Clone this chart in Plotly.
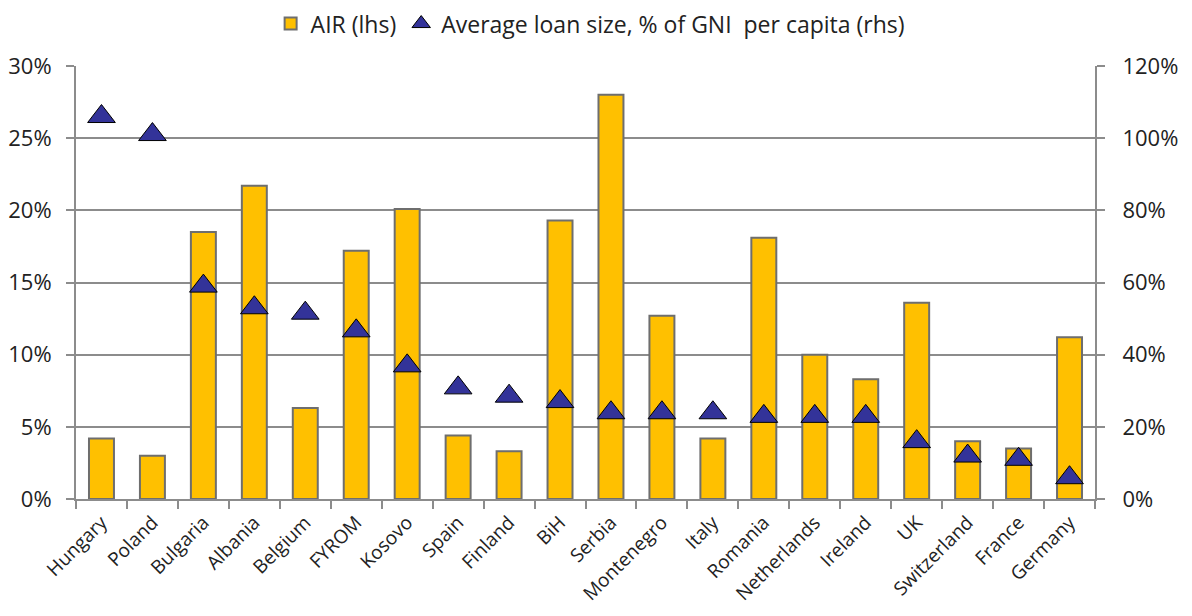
import plotly.graph_objects as go

countries = ["Hungary", "Poland", "Bulgaria", "Albania", "Belgium", "FYROM", "Kosovo",
             "Spain", "Finland", "BiH", "Serbia", "Montenegro", "Italy", "Romania",
             "Netherlands", "Ireland", "UK", "Switzerland", "France", "Germany"]
air_lhs = [4.2, 3.0, 18.5, 21.7, 6.3, 17.2, 20.1, 4.4, 3.3, 19.3, 28.0, 12.7, 4.2, 18.1,
           10.0, 8.3, 13.6, 4.0, 3.5, 11.2]
loan_size_rhs = [106, 101, 59, 53, 51.5, 46.6, 36.9, 30.8, 28.5, 27.0, 23.9, 23.9, 23.9, 22.9,
                 22.9, 22.9, 15.9, 11.9, 11.0, 5.9]
left_ticks = [0, 5, 10, 15, 20, 25, 30]
right_ticks = [0, 20, 40, 60, 80, 100, 120]

FONT = "Open Sans"
GRID = "#8c8c8c"

fig = go.Figure()
fig.add_trace(go.Bar(
    x=countries, y=air_lhs, name="AIR (lhs)",
    marker=dict(color="#FFC000", line=dict(color="#6e6e6e", width=2)),
    yaxis="y",
))
fig.add_trace(go.Scatter(
    x=countries, y=loan_size_rhs, name="Average loan size, % of GNI  per capita (rhs)",
    mode="markers",
    marker=dict(symbol="triangle-up", size=24, color="#333399",
                line=dict(color="#000000", width=1)),
    yaxis="y2", cliponaxis=False,
))

fig.update_layout(
    width=1176, height=600,
    margin=dict(l=68, r=89, t=58, b=109, autoexpand=False),
    paper_bgcolor="white", plot_bgcolor="white",
    font=dict(family=FONT, size=20, color="#222222"),
    bargap=0.51,
    showlegend=True,
    legend=dict(orientation="h", xref="container", yref="container",
                x=0.495, xanchor="center", y=0.974, yanchor="middle",
                font=dict(size=23), itemwidth=30, traceorder="normal"),
    xaxis=dict(
        type="category", range=[-0.5, len(countries) - 0.5], autorange=False,
        tickangle=-45, tickson="boundaries",
        ticks="outside", ticklen=8, tickcolor=GRID, tickwidth=2,
        showline=True, linecolor=GRID, linewidth=2,
        showgrid=False, tickfont=dict(size=19), automargin=False,
        ticklabelstandoff=3,
    ),
    yaxis=dict(
        range=[0, 30], tickvals=left_ticks, ticktext=[f"{v}%" for v in left_ticks],
        showgrid=True, gridcolor=GRID, gridwidth=2,
        showline=True, linecolor=GRID, linewidth=2,
        ticks="outside", ticklen=8, tickcolor=GRID, tickwidth=2,
        zeroline=False, tickfont=dict(size=22), automargin=False,
        ticklabelstandoff=10,
    ),
    yaxis2=dict(
        range=[0, 120], tickvals=right_ticks, ticktext=[f"{v}%" for v in right_ticks],
        overlaying="y", side="right", showgrid=False,
        showline=True, linecolor=GRID, linewidth=2,
        ticks="outside", ticklen=8, tickcolor=GRID, tickwidth=2,
        zeroline=False, tickfont=dict(size=22), automargin=False,
        ticklabelstandoff=13,
    ),
)

fig.write_html("out.html")
